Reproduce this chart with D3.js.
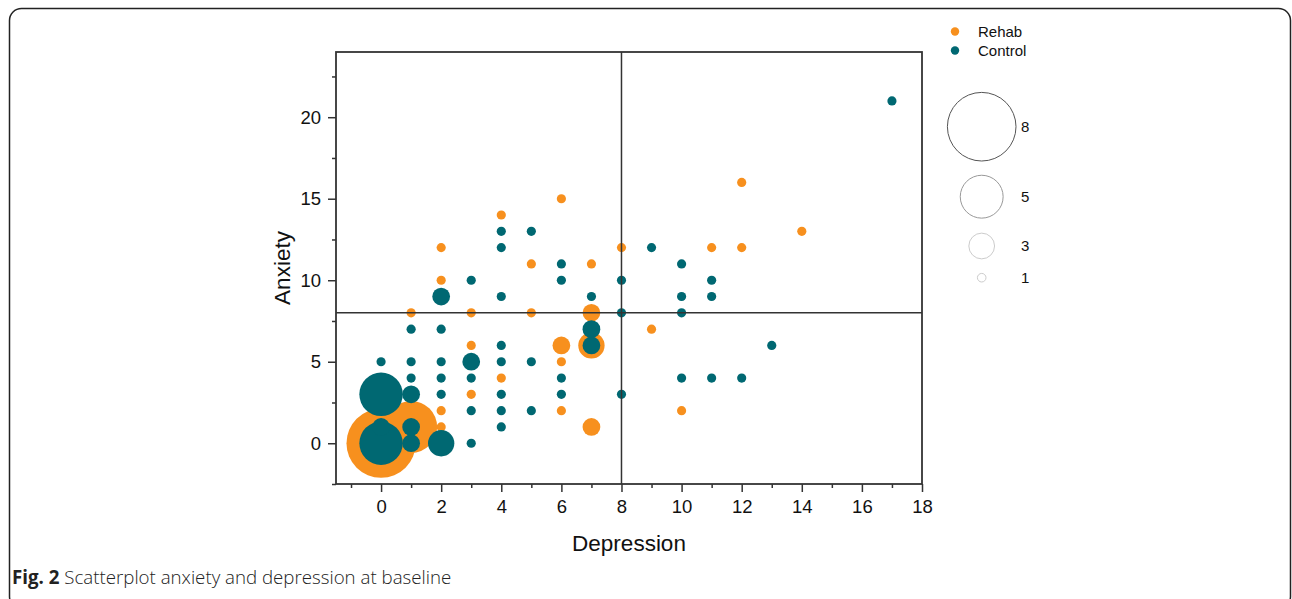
<!DOCTYPE html>
<html>
<head>
<meta charset="utf-8">
<script src="https://cdn.jsdelivr.net/npm/d3@7"></script>
<style>
  body { margin: 0; background: #fff; }
</style>
</head>
<body>
<div id="chart"></div>
<script>
// Points as [depression, anxiety, number of patients]
const rehabPoints = [
  [0, 0, 8], [1, 1, 6], [2, 1, 1], [2, 2, 1], [3, 3, 1], [4, 4, 1], [3, 6, 1],
  [6, 6, 2], [7, 6, 3], [6, 5, 1], [6, 2, 1], [7, 1, 2], [1, 8, 1], [3, 8, 1],
  [5, 8, 1], [7, 8, 2], [9, 7, 1], [2, 10, 1], [5, 11, 1], [7, 11, 1], [2, 12, 1],
  [8, 12, 1], [11, 12, 1], [12, 12, 1], [4, 14, 1], [6, 15, 1], [14, 13, 1],
  [12, 16, 1], [10, 2, 1]
];
const controlPoints = [
  [0, 0, 5], [0, 1, 2], [0, 3, 5], [0, 5, 1], [1, 0, 2], [1, 1, 2], [1, 3, 2],
  [1, 4, 1], [1, 5, 1], [1, 7, 1], [2, 0, 3], [2, 3, 1], [2, 4, 1], [2, 5, 1],
  [2, 7, 1], [2, 9, 2], [3, 0, 1], [3, 2, 1], [3, 4, 1], [3, 5, 2], [3, 10, 1],
  [4, 1, 1], [4, 2, 1], [4, 3, 1], [4, 5, 1], [4, 6, 1], [4, 9, 1], [4, 12, 1],
  [4, 13, 1], [5, 2, 1], [5, 5, 1], [5, 13, 1], [6, 3, 1], [6, 4, 1], [6, 10, 1],
  [6, 11, 1], [7, 6, 2], [7, 7, 2], [7, 9, 1], [8, 3, 1], [8, 8, 1], [8, 10, 1],
  [9, 12, 1], [10, 4, 1], [10, 8, 1], [10, 9, 1], [10, 11, 1], [11, 4, 1],
  [11, 9, 1], [11, 10, 1], [12, 4, 1], [13, 6, 1], [17, 21, 1]
];
const seriesNames = ['Rehab', 'Control'];
const xTicks = [0, 2, 4, 6, 8, 10, 12, 14, 16, 18];
const yTicks = [0, 5, 10, 15, 20];
const sizeLegend = [8, 5, 3, 1];
const cutoff = 8;

const colors = { Rehab: '#f7901e', Control: '#006872' };
const font = '"Liberation Sans", Arial, sans-serif';

const W = 1292, H = 599;
const pLeft = 336, pRight = 922, pTop = 52, pBottom = 484;

const svg = d3.select('#chart')
  .append('svg')
  .attr('width', W)
  .attr('height', H);

// Figure frame
svg.append('rect')
  .attr('x', 9.5).attr('y', 8.5)
  .attr('width', 1281).attr('height', 600)
  .attr('rx', 12)
  .attr('fill', 'none')
  .attr('stroke', '#222')
  .attr('stroke-width', 1.5);

// Scales
const x = d3.scaleLinear().domain([-1.5, 18]).range([pLeft, pRight]);
const y = d3.scaleLinear().domain([-2.5, 24]).range([pBottom, pTop]);
const r = d3.scaleLinear().domain([0, 8]).range([0, 34.3]);

// Bubbles: rehab first, control on top
const plot = svg.append('g');
[['Rehab', rehabPoints], ['Control', controlPoints]].forEach(([name, pts]) => {
  plot.selectAll('.dot-' + name)
    .data(pts)
    .enter().append('circle')
    .attr('class', 'dot-' + name)
    .attr('cx', d => x(d[0]))
    .attr('cy', d => y(d[1]))
    .attr('r', d => r(d[2]) + 0.3)
    .attr('fill', colors[name]);
});

// Cut-off lines
svg.append('line')
  .attr('x1', x(cutoff)).attr('x2', x(cutoff))
  .attr('y1', pTop).attr('y2', pBottom)
  .attr('stroke', '#333').attr('stroke-width', 1.5);
svg.append('line')
  .attr('x1', pLeft).attr('x2', pRight)
  .attr('y1', y(cutoff)).attr('y2', y(cutoff))
  .attr('stroke', '#333').attr('stroke-width', 1.5);

// Axes
svg.append('g')
  .attr('transform', `translate(0,${pBottom})`)
  .call(d3.axisBottom(x).tickValues(xTicks).tickSize(8).tickPadding(8).tickSizeOuter(0));
svg.append('g')
  .attr('transform', `translate(0,${pBottom})`)
  .call(d3.axisBottom(x).tickValues(d3.range(-1, 18, 2)).tickSize(4).tickFormat('').tickSizeOuter(0));

svg.append('g')
  .attr('transform', `translate(${pLeft},0)`)
  .call(d3.axisLeft(y).tickValues(yTicks).tickSize(8).tickPadding(7).tickSizeOuter(0));
svg.append('g')
  .attr('transform', `translate(${pLeft},0)`)
  .call(d3.axisLeft(y).tickValues(d3.range(-2.5, 24, 5)).tickSize(4).tickFormat('').tickSizeOuter(0));

svg.selectAll('.tick line').attr('stroke', '#333').attr('stroke-width', 1.5);
svg.selectAll('.domain').remove();
svg.selectAll('.tick text')
  .attr('font-family', font)
  .attr('font-size', 18.5)
  .attr('fill', '#111');

// Plot frame
svg.append('rect')
  .attr('x', pLeft).attr('y', pTop)
  .attr('width', pRight - pLeft).attr('height', pBottom - pTop)
  .attr('fill', 'none')
  .attr('stroke', '#333')
  .attr('stroke-width', 1.8);

// Axis titles
svg.append('text')
  .attr('x', (pLeft + pRight) / 2)
  .attr('y', 551)
  .attr('text-anchor', 'middle')
  .attr('font-family', font)
  .attr('font-size', 22.5)
  .attr('fill', '#111')
  .text('Depression');
svg.append('text')
  .attr('transform', 'translate(290,268) rotate(-90)')
  .attr('text-anchor', 'middle')
  .attr('font-family', font)
  .attr('font-size', 22.5)
  .attr('fill', '#111')
  .text('Anxiety');

// Group legend
const legend = svg.append('g');
seriesNames.forEach((name, i) => {
  legend.append('circle')
    .attr('cx', 955).attr('cy', 31.5 + i * 19)
    .attr('r', 4.2)
    .attr('fill', colors[name]);
  legend.append('text')
    .attr('x', 978).attr('y', 31.5 + i * 19)
    .attr('dy', '0.36em')
    .attr('font-family', font)
    .attr('font-size', 15)
    .attr('fill', '#111')
    .text(name);
});

// Size legend
const sizeY = [126.7, 196.7, 246, 277.7];
const sizeStroke = ['#555', '#999', '#ccc', '#ccc'];
sizeLegend.forEach((n, i) => {
  legend.append('circle')
    .attr('cx', 981.7).attr('cy', sizeY[i])
    .attr('r', r(n))
    .attr('fill', 'none')
    .attr('stroke', sizeStroke[i])
    .attr('stroke-width', 1);
  legend.append('text')
    .attr('x', 1021).attr('y', sizeY[i])
    .attr('dy', '0.36em')
    .attr('font-family', font)
    .attr('font-size', 15)
    .attr('fill', '#111')
    .text(n);
});

// Caption
const caption = svg.append('text')
  .attr('x', 12).attr('y', 584)
  .attr('font-family', '"Open Sans", "Noto Sans", sans-serif')
  .attr('font-size', 18.7)
  .attr('fill', '#222');
caption.append('tspan').attr('font-weight', 'bold').text('Fig. 2');
caption.append('tspan').attr('font-weight', 300).text(' Scatterplot anxiety and depression at baseline');
</script>
</body>
</html>
